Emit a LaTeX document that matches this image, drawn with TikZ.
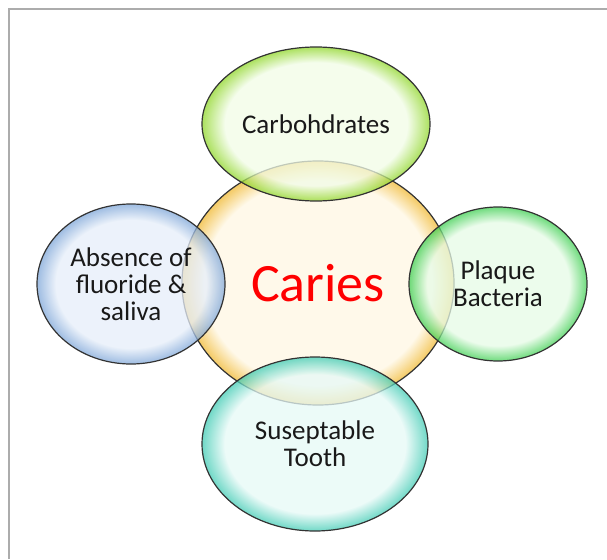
\documentclass[tikz,border=0pt]{standalone}
\usepackage{fontspec}
\setmainfont{Carlito}
\usepackage{tikz}
\usetikzlibrary{shapes.geometric}
\definecolor{cariesin}{HTML}{FFF7E3}
\definecolor{cariesrim}{HTML}{F0B830}
\definecolor{carbin}{HTML}{F1FCE6}
\definecolor{carbrim}{HTML}{8FD628}
\definecolor{fluorin}{HTML}{E6EEF9}
\definecolor{fluorrim}{HTML}{7EA6D8}
\definecolor{plaqin}{HTML}{E6FBE6}
\definecolor{plaqrim}{HTML}{3FCF52}
\definecolor{toothin}{HTML}{E6F9F6}
\definecolor{toothrim}{HTML}{40CBB4}
\definecolor{rimline}{HTML}{333333}
% the path fills the square of side 50bp, so the rim sits at 25bp
\pgfdeclareradialshading{cariesshade}{\pgfpoint{0bp}{0bp}}{%
  color(0bp)=(cariesin); color(21bp)=(cariesin); color(25bp)=(cariesrim); color(50bp)=(cariesrim)}
\pgfdeclareradialshading{carbshade}{\pgfpoint{0bp}{0bp}}{%
  color(0bp)=(carbin); color(20bp)=(carbin); color(25bp)=(carbrim); color(50bp)=(carbrim)}
\pgfdeclareradialshading{fluorshade}{\pgfpoint{0bp}{0bp}}{%
  color(0bp)=(fluorin); color(20bp)=(fluorin); color(25bp)=(fluorrim); color(50bp)=(fluorrim)}
\pgfdeclareradialshading{plaqshade}{\pgfpoint{0bp}{0bp}}{%
  color(0bp)=(plaqin); color(20bp)=(plaqin); color(25bp)=(plaqrim); color(50bp)=(plaqrim)}
\pgfdeclareradialshading{toothshade}{\pgfpoint{0bp}{0bp}}{%
  color(0bp)=(toothin); color(20bp)=(toothin); color(25bp)=(toothrim); color(50bp)=(toothrim)}
\tikzset{
  bubble/.style={ draw=rimline, line width=1.2pt, ellipse, inner sep=0pt,
    fill opacity=0.75, text opacity=1, align=center, text=black!90,
    font=\fontsize{27}{27}\selectfont }
}
\tikzset{
  frameline/.style={ draw=gray!65, line width=1.5pt }
}

\begin{document}
\begin{tikzpicture}[x=1pt, y=-1pt]
      \useasboundingbox (0, 0) rectangle (607, 559);
      \draw[frameline] (9, 559) -- (9, 9) -- (607, 9);

      \node[bubble, shading=cariesshade, minimum width=272, minimum height=244,
        text=red, font=\fontsize{54}{54}\selectfont] (caries) at (318, 283) {Caries};
      \node[bubble, shading=carbshade, minimum width=228, minimum height=154]
        (carb) at (316, 124) {Carbohdrates};
      \node[bubble, shading=fluorshade, minimum width=188, minimum height=160]
        (fluor) at (131, 284) {Absence of\\fluoride \&\\saliva};
      \node[bubble, shading=plaqshade, minimum width=178, minimum height=154]
        (plaque) at (498, 284) {Plaque\\Bacteria};
      \node[bubble, shading=toothshade, minimum width=226, minimum height=174]
        (tooth) at (315, 444) {Suseptable\\Tooth};
    \end{tikzpicture}
\end{document}
